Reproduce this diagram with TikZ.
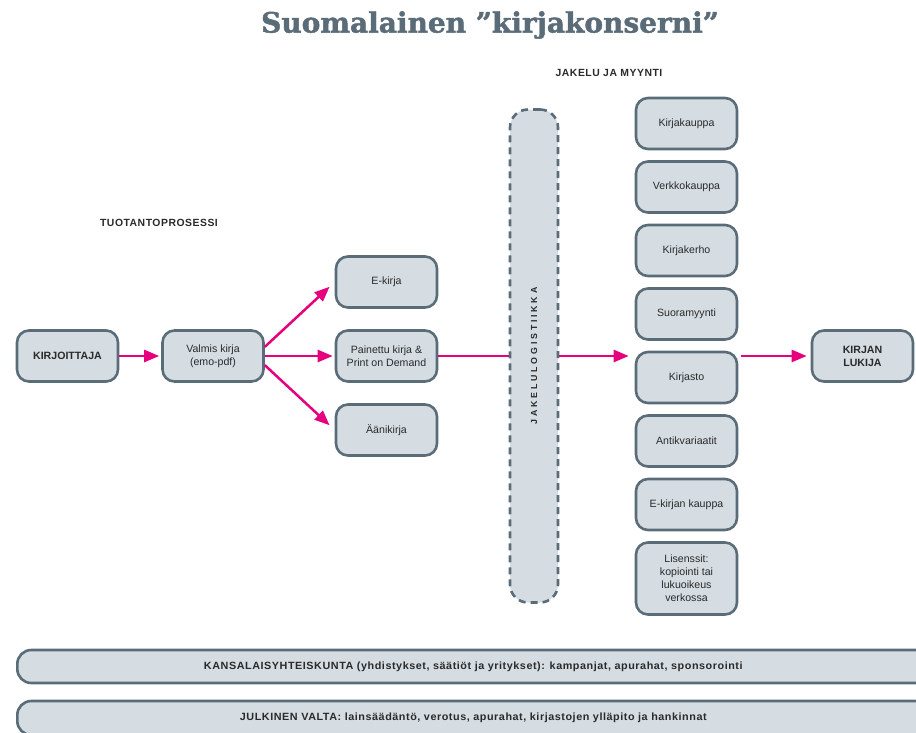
\documentclass[tikz,border=0pt]{standalone}
\usepackage{fontspec}
\setmainfont{Liberation Sans}
\newfontfamily\titlefont[BoldFeatures={FakeBold=1.6}]{DejaVu Serif}
\newfontfamily\headfont[LetterSpace=5]{Liberation Sans}
\newfontfamily\logfont[LetterSpace=32]{Liberation Sans}
\usetikzlibrary{arrows.meta}
\usetikzlibrary{positioning}

\definecolor{slate}{HTML}{5B6C79}
\definecolor{boxfill}{HTML}{D5DDE3}
\definecolor{magenta}{HTML}{E6007E}
\definecolor{ink}{HTML}{2A2A2A}

\begin{document}
\begin{tikzpicture}[x=1pt,y=-1pt,node distance=10pt,on grid,%
  every node/.style={text=ink,font=\fontsize{10.6}{13}\selectfont},%
  box/.style={draw=slate,line width=2.6pt,fill=boxfill,%
  rounded corners=12pt,minimum width=101pt,minimum height=51pt,%
  align=center,inner sep=2pt},%
  logistics/.style={box,dash pattern=on 7pt off 5pt,minimum width=48pt,%
  minimum height=493pt,rounded corners=18pt},%
  bar/.style={box,rounded corners=14pt,minimum width=912pt,%
  minimum height=33pt,anchor=west},%
  heading/.style={font=\headfont\bfseries\fontsize{10.4}{12}\selectfont},%
  flow/.style={draw=magenta,line width=2.5pt,%
  -{Triangle[length=15pt,width=12pt]}}]
  \useasboundingbox (0,0) rectangle (916,732);

  % title and headings
  \node (title) at (490,25) {\titlefont\bfseries\fontsize{28}{30}\selectfont%
    \textcolor{slate}{Suomalainen ”kirjakonserni”}};
  \node[heading] (prodhead) at (159,223) {TUOTANTOPROSESSI};
  \node[heading] (salehead) at (609,73)  {JAKELU JA MYYNTI};

  % production
  \node[box]    (writer)  at (67.5,356)              {\textbf{KIRJOITTAJA}};
  \node[box]    (ready)   [right = 145.5pt of writer] {Valmis kirja\\(emo-pdf)};
  \node[box]    (printed) [right = 173.5pt of ready]  {Painettu kirja \&\\Print on Demand};
  \node[box]    (ebook)   [above = 74pt of printed]   {E-kirja};
  \node[box]    (audio)   [below = 74pt of printed]   {Äänikirja};
  \node[box,logistics] (logist) [right = 147.5pt of printed] {};
  \node[rotate=90,font=\logfont\bfseries\fontsize{8.8}{10}\selectfont] (logtext)
    at (logist) {JAKELULOGISTIIKKA};

  % sales channels
  \node[box] (library)  [below right = 21.5pt and 152.5pt of logist] {Kirjasto};
  \node[box] (direct)   [above = 63.5pt of library]  {Suoramyynti};
  \node[box] (club)     [above = 63.5pt of direct]   {Kirjakerho};
  \node[box] (webshop)  [above = 63.5pt of club]     {Verkkokauppa};
  \node[box] (shop)     [above = 63.5pt of webshop]  {Kirjakauppa};
  \node[box] (antiq)    [below = 63.5pt of library]  {Antikvariaatit};
  \node[box] (eshop)    [below = 63.5pt of antiq]    {E-kirjan kauppa};
  \node[box,minimum height=72pt] (licence) [below = 74pt of eshop]
    {Lisenssit:\\kopiointi tai\\lukuoikeus\\verkossa};
  \node[box] (reader)   [above right = 21.5pt and 176pt of library]
    {\textbf{KIRJAN}\\\textbf{LUKIJA}};

  % society
  \node[bar] (civil)  at (16,666.5) {\scalebox{1.03}[1]{\headfont\bfseries
    \fontsize{10.5}{12}\selectfont KANSALAISYHTEISKUNTA (yhdistykset, säätiöt
    ja yritykset): kampanjat, apurahat, sponsorointi}};
  \node[bar,minimum height=34pt] (state) at (16,718) {\scalebox{1.03}[1]{\headfont
    \bfseries\fontsize{10.5}{12}\selectfont JULKINEN VALTA: lainsäädäntö,
    verotus, apurahat, kirjastojen ylläpito ja hankinnat}};

  \draw[flow,shorten >=2pt] (writer) -- (ready);
  \draw[flow,shorten >=2pt] (ready) -- (printed);
  \draw[flow,shorten >=7pt] (ready.10) -- (ebook.west);
  \draw[flow,shorten >=7pt] (ready.-10) -- (audio.west);
  \draw[magenta,line width=2.5pt] (printed) -- (logist);
  \draw[flow,shorten >=6pt] (logist) -- (logist -| library.west);
  \draw[flow,shorten <=3pt,shorten >=4pt] (library.east |- reader) -- (reader);
\end{tikzpicture}
\end{document}
